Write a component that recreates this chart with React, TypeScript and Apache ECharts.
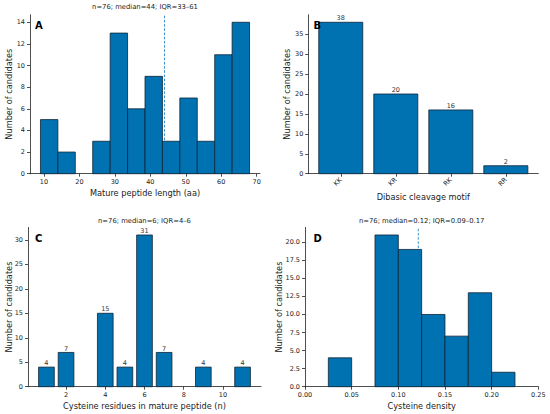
import React, { useEffect, useRef } from "react";
import * as echarts from "echarts";

// ---- data ----
const lengthEdges = [9, 13.92, 18.83, 23.75, 28.67, 33.58, 38.5, 43.42, 48.33, 53.25, 58.17, 63.08, 68];
const lengthCounts = [5, 2, 0, 3, 13, 6, 9, 3, 7, 3, 11, 14];
const lengthMedian = 44;
const lengthTicksX = [10, 20, 30, 40, 50, 60, 70];
const lengthTicksY = [0, 2, 4, 6, 8, 10, 12, 14];

const motifs = ["KK", "KR", "RK", "RR"];
const motifCounts = [38, 20, 16, 2];
const motifTicksY = [0, 5, 10, 15, 20, 25, 30, 35];

const cysN = [1, 2, 4, 5, 6, 7, 9, 11];
const cysCounts = [4, 7, 15, 4, 31, 7, 4, 4];
const cysTicksX = [2, 4, 6, 8, 10];
const cysTicksY = [0, 5, 10, 15, 20, 25, 30];

const densityEdges = [0.025, 0.05, 0.075, 0.1, 0.125, 0.15, 0.175, 0.2, 0.225];
const densityCounts = [4, 0, 21, 19, 10, 7, 13, 2];
const densityMedian = 0.1214;
const densityTicksX = [0, 0.05, 0.1, 0.15, 0.2, 0.25];
const densityTicksY = [0, 2.5, 5, 7.5, 10, 12.5, 15, 17.5, 20];

const titles = [
  "n=76; median=44; IQR=33\u201361",
  "",
  "n=76; median=6; IQR=4\u20136",
  "n=76; median=0.12; IQR=0.09\u20130.17",
];
const panelLetters = ["A", "B", "C", "D"];
const xNames = [
  "Mature peptide length (aa)",
  "Dibasic cleavage motif",
  "Cysteine residues in mature peptide (n)",
  "Cysteine density",
];
const yName = "Number of candidates";

// ---- style ----
const FONT = "DejaVu Sans";
const BAR = "#0072B2";
const EDGE = "#0e2436";
const INK = "#222";
const MED = "#3a90d0";

const grids = [
  { left: 30, top: 14.7, width: 230, height: 159 },
  { left: 308.3, top: 14.7, width: 230, height: 159 },
  { left: 28, top: 227.4, width: 233, height: 159.3 },
  { left: 305, top: 227.4, width: 233.3, height: 159.3 },
];

const axisLine = { show: true, onZero: false, lineStyle: { color: INK, width: 0.8 } };

function xAxis(gi: number, min: number, max: number, ticks: number[], fmt: (v: number) => string, rotate = 0) {
  return {
    type: "value",
    gridIndex: gi,
    min,
    max,
    axisLine,
    splitLine: { show: false },
    axisTick: { show: true, length: 3, lineStyle: { color: INK, width: 0.8 }, customValues: ticks },
    axisLabel: {
      show: true,
      customValues: ticks,
      formatter: (v: number) => fmt(v),
      color: INK,
      fontSize: 6.5,
      fontFamily: FONT,
      margin: 5,
      rotate,
    },
  };
}
function yAxis(gi: number, max: number, ticks: number[], fmt: (v: number) => string) {
  return {
    type: "value",
    gridIndex: gi,
    min: 0,
    max,
    axisLine,
    splitLine: { show: false },
    axisTick: { show: true, length: 3, lineStyle: { color: INK, width: 0.8 }, customValues: ticks },
    axisLabel: {
      show: true,
      customValues: ticks,
      formatter: (v: number) => fmt(v),
      color: INK,
      fontSize: 6.5,
      fontFamily: FONT,
      margin: 5,
    },
  };
}

function histSeries(gi: number, edges: number[], counts: number[]) {
  const data = counts
    .map((c, i) => [edges[i], edges[i + 1], c])
    .filter((d) => d[2] > 0);
  return {
    type: "custom",
    xAxisIndex: gi,
    yAxisIndex: gi,
    z: 3,
    silent: true,
    data,
    encode: { x: [0, 1], y: 2 },
    renderItem: (_p: any, api: any) => {
      const p0 = api.coord([api.value(0), api.value(2)]);
      const p1 = api.coord([api.value(1), 0]);
      return {
        type: "rect",
        shape: { x: p0[0], y: p0[1], width: p1[0] - p0[0], height: p1[1] - p0[1] },
        style: { fill: BAR, stroke: EDGE, lineWidth: 0.8 },
      };
    },
  };
}

function barSeries(gi: number, xs: number[], counts: number[]) {
  const data = counts.map((c, i) => [xs[i], c]);
  return {
    type: "custom",
    xAxisIndex: gi,
    yAxisIndex: gi,
    z: 3,
    silent: true,
    data,
    encode: { x: 0, y: 1 },
    renderItem: (_p: any, api: any) => {
      const x = api.value(0);
      const v = api.value(1);
      const p0 = api.coord([x - 0.4, v]);
      const p1 = api.coord([x + 0.4, 0]);
      return {
        type: "group",
        children: [
          {
            type: "rect",
            shape: { x: p0[0], y: p0[1], width: p1[0] - p0[0], height: p1[1] - p0[1] },
            style: { fill: BAR, stroke: EDGE, lineWidth: 0.8 },
          },
          {
            type: "text",
            x: (p0[0] + p1[0]) / 2,
            y: p0[1] - 0.3,
            style: {
              text: String(v),
              fill: "#333",
              fontSize: 6.5,
              fontFamily: FONT,
              align: "center",
              verticalAlign: "bottom",
            },
          },
        ],
      };
    },
  };
}

function medianSeries(gi: number, med: number, top: number) {
  return {
    type: "line",
    xAxisIndex: gi,
    yAxisIndex: gi,
    z: 1,
    silent: true,
    symbol: "none",
    data: [
      [med, 0],
      [med, top],
    ],
    lineStyle: { color: MED, width: 1, type: [2.6, 1.6] },
  };
}

export default function App() {
  const ref = useRef<HTMLDivElement>(null);
  useEffect(() => {
    if (!ref.current) return;
    const chart = echarts.init(ref.current, undefined, { renderer: "svg" });

    const lenTop = 14.7;
    const motTop = 39.9;
    const cysTop = 32.55;
    const denTop = 22.05;

    const graphics: any[] = [];
    const titleY = [7.4, 0, 220.7, 220.7];
    const letterPos = [
      [35, 25.8],
      [313.5, 25.8],
      [35, 238.6],
      [313.5, 238.6],
    ];
    const xNameY = [192.7, 196.7, 406, 405.7];
    const yNameX = [8.5, 286.7, 8.5, 279.3];
    grids.forEach((g, i) => {
      const cx = g.left + g.width / 2;
      const cy = g.top + g.height / 2;
      if (titles[i]) {
        graphics.push({
          type: "text",
          x: cx,
          y: titleY[i],
          style: { text: titles[i], fill: INK, fontSize: 6.8, fontFamily: FONT, align: "center", verticalAlign: "middle" },
        });
      }
      graphics.push({
        type: "text",
        x: letterPos[i][0],
        y: letterPos[i][1],
        z: 10,
        style: {
          text: panelLetters[i],
          fill: "#000",
          fontSize: 10,
          fontWeight: "bold",
          fontFamily: FONT,
          align: "left",
          verticalAlign: "middle",
        },
      });
      graphics.push({
        type: "text",
        x: cx,
        y: xNameY[i],
        style: { text: xNames[i], fill: INK, fontSize: 8.2, fontFamily: FONT, align: "center", verticalAlign: "middle" },
      });
      graphics.push({
        type: "text",
        x: yNameX[i],
        y: cy,
        rotation: Math.PI / 2,
        style: { text: yName, fill: INK, fontSize: 8.2, fontFamily: FONT, align: "center", verticalAlign: "middle" },
      });
    });

    chart.setOption({
      animation: false,
      backgroundColor: "#ffffff",
      grid: grids.map((g) => ({ ...g, containLabel: false })),
      xAxis: [
        xAxis(0, 6.05, 70.95, lengthTicksX, (v) => String(v)),
        xAxis(1, -0.59, 3.59, [0, 1, 2, 3], (v) => motifs[Math.round(v)] ?? "", 45),
        xAxis(2, 0.06, 11.94, cysTicksX, (v) => String(v)),
        xAxis(3, 0, 0.25, densityTicksX, (v) => v.toFixed(2)),
      ],
      yAxis: [
        yAxis(0, lenTop, lengthTicksY, (v) => String(v)),
        yAxis(1, motTop, motifTicksY, (v) => String(v)),
        yAxis(2, cysTop, cysTicksY, (v) => String(v)),
        yAxis(3, denTop, densityTicksY, (v) => v.toFixed(1)),
      ],
      series: [
        medianSeries(0, lengthMedian, lenTop),
        histSeries(0, lengthEdges, lengthCounts),
        barSeries(1, [0, 1, 2, 3], motifCounts),
        barSeries(2, cysN, cysCounts),
        medianSeries(3, densityMedian, denTop),
        histSeries(3, densityEdges, densityCounts),
      ],
      graphic: graphics,
    });
    return () => chart.dispose();
  }, []);
  return (
    <div
      ref={ref}
      style={{ position: "absolute", left: 0, top: 0, width: 550, height: 414, background: "#fff" }}
    />
  );
}
